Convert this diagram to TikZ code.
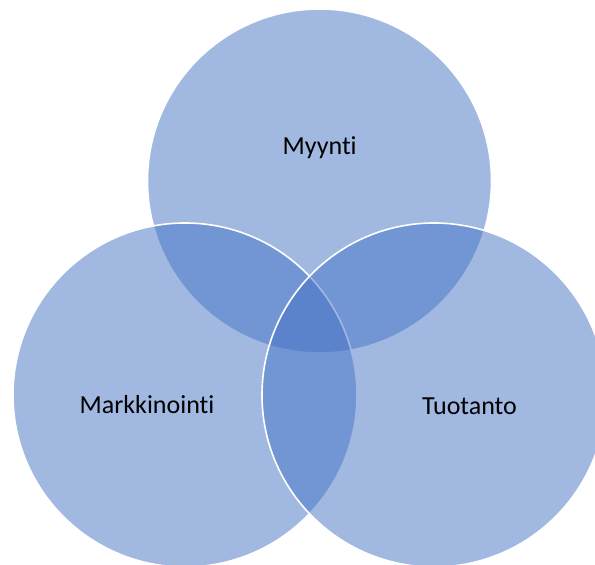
\documentclass[tikz,border=0pt]{standalone}
\usepackage{fontspec}
\setmainfont[RawFeature={-liga;-dlig;-clig}]{Carlito}
\definecolor{accent}{HTML}{4472C4}
\begin{document}
\begin{tikzpicture}[x=1pt,y=1pt,
  venn/.style={circle, inner sep=0pt, outer sep=0pt, minimum size=344pt,
    fill=accent, fill opacity=0.5, draw=white, draw opacity=1, line width=1.6pt},
  lbl/.style={anchor=base, font=\fontsize{26}{30}\selectfont, text=black}]
\useasboundingbox (0,0) rectangle (595,565);
\clip (0,0) rectangle (595,565);
\node[venn] (myynti) at (319.5,384) {};
\node[venn] (markkinointi) at (185,170) {};
\node[venn] (tuotanto) at (434,170) {};
\node[lbl] (tm) at (319.7,410) {Myynti};
\node[lbl] (tk) at (147,151) {Markkinointi};
\node[lbl] (tt) at (469.5,150) {Tuotanto};
\end{tikzpicture}
\end{document}
